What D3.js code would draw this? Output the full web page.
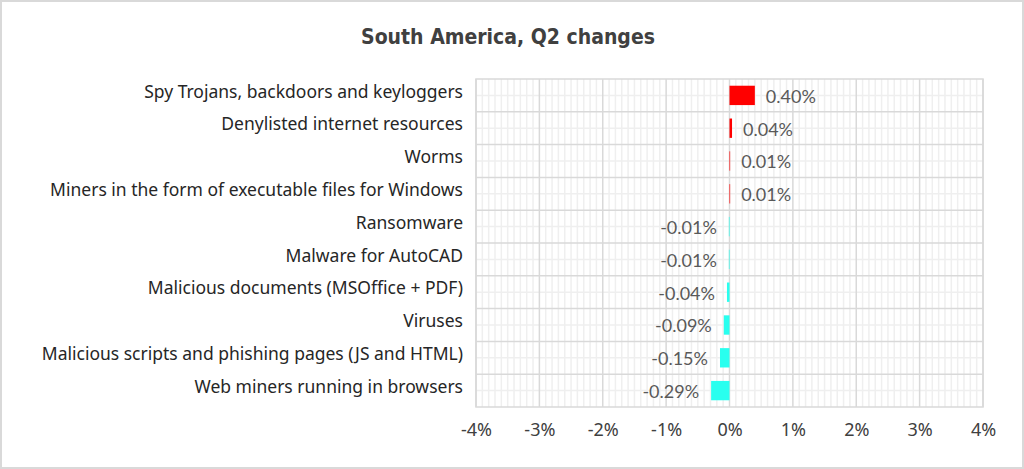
<!DOCTYPE html>
<html>
<head>
<meta charset="utf-8">
<script src="https://cdn.jsdelivr.net/npm/d3@7"></script>
<style>
  body { margin: 0; background: #fff; }
</style>
</head>
<body>
<div id="chart"></div>
<script>
const categories = [
  "Spy Trojans, backdoors and keyloggers",
  "Denylisted internet resources",
  "Worms",
  "Miners in the form of executable files for Windows",
  "Ransomware",
  "Malware for AutoCAD",
  "Malicious documents (MSOffice + PDF)",
  "Viruses",
  "Malicious scripts and phishing pages (JS and HTML)",
  "Web miners running in browsers"
];
const changes = [0.40, 0.04, 0.01, 0.01, -0.01, -0.01, -0.04, -0.09, -0.15, -0.29];
const xTicks = [-4, -3, -2, -1, 0, 1, 2, 3, 4];
const title = "South America, Q2 changes";

const width = 1024, height = 469;
const margin = {top: 79, right: 41, bottom: 62, left: 476};

const svg = d3.select("#chart").append("svg")
    .attr("width", width)
    .attr("height", height);

// outer frame
svg.append("rect")
    .attr("x", 1).attr("y", 1)
    .attr("width", width - 2).attr("height", height - 2)
    .attr("fill", "#fff")
    .attr("stroke", "#d9d9d9")
    .attr("stroke-width", 2);

svg.append("text")
    .attr("x", 508)
    .attr("y", 44)
    .attr("text-anchor", "middle")
    .style("font-family", "'DejaVu Sans Condensed', 'DejaVu Sans'")
    .style("font-weight", "bold")
    .style("font-size", "21px")
    .style("fill", "#404040")
    .text(title);

const x = d3.scaleLinear()
    .domain([-4, 4])
    .range([margin.left, width - margin.right]);

const y = d3.scaleBand()
    .domain(categories)
    .range([margin.top, height - margin.bottom])
    .paddingInner(0.41)
    .paddingOuter(0.205);

// minor grid
const minor = d3.range(-40, 41).map(d => d / 10).filter(d => !xTicks.includes(d));
svg.append("g")
    .selectAll("line")
    .data(minor)
    .join("line")
    .attr("x1", d => x(d)).attr("x2", d => x(d))
    .attr("y1", margin.top).attr("y2", height - margin.bottom)
    .attr("stroke", "#efefef")
    .attr("stroke-width", 1.5);

svg.append("g")
    .selectAll("line")
    .data(categories)
    .join("line")
    .attr("x1", x(-4)).attr("x2", x(4))
    .attr("y1", d => y(d) + y.bandwidth() / 2)
    .attr("y2", d => y(d) + y.bandwidth() / 2)
    .attr("stroke", "#efefef")
    .attr("stroke-width", 1.5);

// major grid
svg.append("g")
    .selectAll("line")
    .data(xTicks)
    .join("line")
    .attr("x1", d => x(d)).attr("x2", d => x(d))
    .attr("y1", margin.top).attr("y2", height - margin.bottom)
    .attr("stroke", "#d9d9d9")
    .attr("stroke-width", 1.5);

svg.append("g")
    .selectAll("line")
    .data(categories.slice(1))
    .join("line")
    .attr("x1", x(-4)).attr("x2", x(4))
    .attr("y1", d => y(d) - y.step() * y.paddingInner() / 2)
    .attr("y2", d => y(d) - y.step() * y.paddingInner() / 2)
    .attr("stroke", "#d9d9d9")
    .attr("stroke-width", 1.5);

svg.append("rect")
    .attr("x", x(-4)).attr("y", margin.top)
    .attr("width", x(4) - x(-4))
    .attr("height", height - margin.bottom - margin.top)
    .attr("fill", "none")
    .attr("stroke", "#d9d9d9")
    .attr("stroke-width", 1.5);

// bars
svg.append("g")
    .selectAll("rect")
    .data(changes)
    .join("rect")
    .attr("x", d => x(Math.min(0, d)))
    .attr("y", (d, i) => y(categories[i]))
    .attr("width", d => Math.abs(x(d) - x(0)))
    .attr("height", y.bandwidth())
    .attr("fill", d => d >= 0 ? "#ff0000" : "#29ffef");

// value labels
svg.append("g")
    .selectAll("text")
    .data(changes)
    .join("text")
    .attr("x", d => d >= 0 ? x(d) + 11 : x(d) - 12)
    .attr("y", (d, i) => y(categories[i]) + y.bandwidth() / 2 + 1)
    .attr("dy", "0.35em")
    .attr("text-anchor", d => d >= 0 ? "start" : "end")
    .style("font-family", "Lato, 'Open Sans', sans-serif")
    .style("font-size", "18px")
    .style("fill", "#595959")
    .text(d => d.toFixed(2) + "%");

// category labels
svg.append("g")
    .selectAll("text")
    .data(categories)
    .join("text")
    .attr("x", 463)
    .attr("y", d => y(d) + y.bandwidth() / 2 - 4)
    .attr("dy", "0.35em")
    .attr("text-anchor", "end")
    .style("font-family", "'Noto Sans', sans-serif")
    .style("font-size", "17.5px")
    .style("fill", "#262626")
    .text(d => d);

// x axis
const xAxis = svg.append("g")
    .attr("transform", `translate(0,${height - margin.bottom})`)
    .call(d3.axisBottom(x).tickValues(xTicks).tickSize(0).tickPadding(16).tickFormat(d => d + "%"));
xAxis.select(".domain").remove();
xAxis.selectAll("text")
    .style("font-family", "'Noto Sans', sans-serif")
    .style("font-size", "18px")
    .style("fill", "#404040");
</script>
</body>
</html>
